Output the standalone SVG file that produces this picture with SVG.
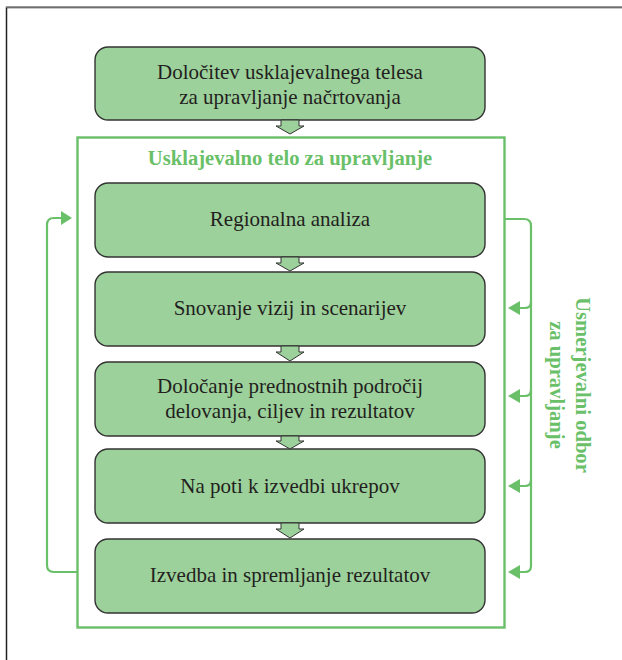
<svg xmlns="http://www.w3.org/2000/svg" width="622" height="660" viewBox="0 0 622 660">
<style>
.box{fill:#9dd19b;stroke:#333;stroke-width:1.4}
.t{font-family:"Liberation Serif","Times New Roman",Tinos,"Noto Serif","DejaVu Serif",serif;font-size:21px;fill:#231f20;text-anchor:middle}
.g{font-family:"Liberation Serif","Times New Roman",Tinos,"Noto Serif","DejaVu Serif",serif;font-size:20.6px;font-weight:bold;fill:#6abf69;text-anchor:middle}
.ln{fill:none;stroke:#6abf69;stroke-width:2.2}
.ar{fill:#9dd19b;stroke:#333;stroke-width:1}
.ah{fill:#6abf69}
</style>
<rect width="622" height="660" fill="#fff"/>
<path d="M6.5 660 V7.5 H622" fill="none" stroke="#222" stroke-width="1.5"/>
<line x1="6" y1="7" x2="622" y2="7" stroke="#888" stroke-width="1.5"/>
<g id="frame">
<rect x="77.5" y="137.5" width="427" height="490" fill="none" stroke="#6abf69" stroke-width="2.4"/>
<text class="g" x="290" y="165">Usklajevalno telo za upravljanje</text>
</g>
<g id="n0"><rect class="box" x="95" y="47" width="390" height="73" rx="13"/>
<text class="t" x="290" y="79">Določitev usklajevalnega telesa</text>
<text class="t" x="290" y="104">za upravljanje načrtovanja</text></g>
<g id="n1"><rect class="box" x="95" y="183" width="390" height="74" rx="13"/>
<text class="t" x="290" y="226">Regionalna analiza</text></g>
<g id="n2"><rect class="box" x="95" y="272" width="390" height="74" rx="13"/>
<text class="t" x="290" y="315">Snovanje vizij in scenarijev</text></g>
<g id="n3"><rect class="box" x="95" y="362" width="390" height="74" rx="13"/>
<text class="t" x="290" y="393">Določanje prednostnih področij</text>
<text class="t" x="290" y="418">delovanja, ciljev in rezultatov</text></g>
<g id="n4"><rect class="box" x="95" y="449" width="390" height="74" rx="13"/>
<text class="t" x="290" y="493">Na poti k izvedbi ukrepov</text></g>
<g id="n5"><rect class="box" x="95" y="539" width="390" height="74" rx="13"/>
<text class="t" x="290" y="582">Izvedba in spremljanje rezultatov</text></g>
<g id="side-label">
<text class="g" transform="translate(576 385) rotate(90)">Usmerjevalni odbor</text>
<text class="g" transform="translate(550 385) rotate(90)">za upravljanje</text>
</g>
<g id="connectors">
<path class="ar" d="M281 120 H299 V126 H304 L290 134 L276 126 H281 Z"/>
<path class="ar" d="M281 257 H299 V263 H304 L290 271 L276 263 H281 Z"/>
<path class="ar" d="M281 346 H299 V352 H304 L290 361 L276 352 H281 Z"/>
<path class="ar" d="M281 436 H299 V441 H304 L290 449 L276 441 H281 Z"/>
<path class="ar" d="M281 523 H299 V529 H304 L290 538 L276 529 H281 Z"/>
<path class="ln" d="M77 572 H54 Q47 572 47 565 V225 Q47 218 54 218 H62"/>
<path class="ah" d="M61 211 L72 218 L61 225 Z"/>
<path class="ln" d="M505 219 H524 Q531 219 531 226 V566 Q531 572 525 572 H519"/>
<path class="ln" d="M531 302 Q531 308 525 308 H519"/>
<path class="ln" d="M531 390 Q531 396 525 396 H519"/>
<path class="ln" d="M531 480 Q531 486 525 486 H519"/>
<path class="ah" d="M520 301 L508 308 L520 315 Z"/>
<path class="ah" d="M520 389 L508 396 L520 403 Z"/>
<path class="ah" d="M520 479 L508 486 L520 493 Z"/>
<path class="ah" d="M520 565 L508 572 L520 579 Z"/>
</g>
</svg>
